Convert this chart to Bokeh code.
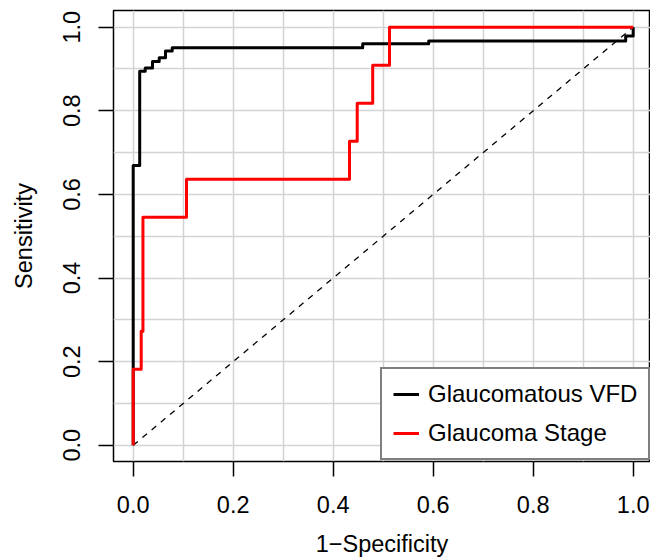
from bokeh.plotting import figure
from bokeh.models import Range1d, FixedTicker, Legend, LegendItem, NumeralTickFormatter
from bokeh.embed import file_html
from bokeh.resources import INLINE

# ROC step coordinates (1-Specificity, Sensitivity)
vfd_fpr = [0.0, 0.0, 0.013, 0.013, 0.024, 0.024, 0.0386, 0.0386, 0.052, 0.052,
           0.0646, 0.0646, 0.078, 0.078, 0.459, 0.459, 0.591, 0.591, 0.985, 0.985, 1.0, 1.0]
vfd_tpr = [0.0, 0.669, 0.669, 0.8945, 0.8945, 0.902, 0.902, 0.918, 0.918, 0.927,
           0.927, 0.943, 0.943, 0.951, 0.951, 0.960, 0.960, 0.9667, 0.9667, 0.979, 0.979, 1.0]

stage_fpr = [0.0, 0.0, 0.016, 0.016, 0.0195, 0.0195, 0.1066, 0.1066, 0.4326, 0.4326,
             0.448, 0.448, 0.479, 0.479, 0.5126, 0.5126, 1.0]
stage_tpr = [0.0, 0.1818, 0.1818, 0.2727, 0.2727, 0.5455, 0.5455, 0.6364, 0.6364, 0.7273,
             0.7273, 0.8182, 0.8182, 0.9091, 0.9091, 1.0, 1.0]

ref_x = [0.0, 1.0]
ref_y = [0.0, 1.0]

axis_ticks = [0.0, 0.2, 0.4, 0.6, 0.8, 1.0]
grid_ticks = [0.0, 0.1, 0.2, 0.3, 0.4, 0.5, 0.6, 0.7, 0.8, 0.9, 1.0]

series_labels = ["Glaucomatous VFD", "Glaucoma Stage"]
x_title = "1\u2212Specificity"
y_title = "Sensitivity"

FONT = "Liberation Sans"
FS = "23.5px"

p = figure(width=650, height=559,
           x_range=Range1d(-0.0394, 1.0346), y_range=Range1d(-0.0388, 1.0398),
           output_backend="svg", toolbar_location=None,
           min_border_left=113, min_border_right=0, min_border_top=10, min_border_bottom=96)

p.background_fill_color = "white"
p.border_fill_color = "white"
p.outline_line_color = "black"
p.outline_line_width = 1.5

for g in (p.xgrid, p.ygrid):
    g.ticker = FixedTicker(ticks=grid_ticks)
    g.grid_line_color = "#d3d3d3"
    g.grid_line_width = 1.5

for ax in (p.xaxis, p.yaxis):
    ax.ticker = FixedTicker(ticks=axis_ticks)
    ax.formatter = NumeralTickFormatter(format="0.0")
    ax.axis_line_color = None
    ax.major_tick_line_color = "black"
    ax.major_tick_line_width = 1.5
    ax.major_tick_out = 15
    ax.major_tick_in = 0
    ax.minor_tick_line_color = None
    ax.major_label_text_font = FONT
    ax.major_label_text_font_size = FS
    ax.major_label_text_color = "black"
    ax.axis_label_text_font = FONT
    ax.axis_label_text_font_size = FS
    ax.axis_label_text_font_style = "normal"
    ax.axis_label_text_color = "black"

p.xaxis.axis_label = x_title
p.yaxis.axis_label = y_title
p.xaxis.major_label_standoff = 19
p.yaxis.major_label_standoff = 18
p.xaxis.axis_label_standoff = 15
p.yaxis.axis_label_standoff = 24
p.yaxis.major_label_orientation = "vertical"

p.line(ref_x, ref_y, line_color="black", line_width=1.3, line_dash="6 6")
r1 = p.line(vfd_fpr, vfd_tpr, line_color="black", line_width=3, line_join="round")
r2 = p.line(stage_fpr, stage_tpr, line_color="red", line_width=3, line_join="round")

legend = Legend(items=[LegendItem(label=series_labels[0], renderers=[r1]),
                       LegendItem(label=series_labels[1], renderers=[r2])],
                location=(267, 1), margin=0, padding=11, spacing=11,
                glyph_width=26, glyph_height=28, label_height=28, label_standoff=9,
                label_text_font=FONT, label_text_font_size="24px", label_text_color="black",
                border_line_color="black", border_line_width=2.5,
                background_fill_color="white", background_fill_alpha=1.0)
p.add_layout(legend)

open("out.html", "w").write(file_html(p, INLINE))
